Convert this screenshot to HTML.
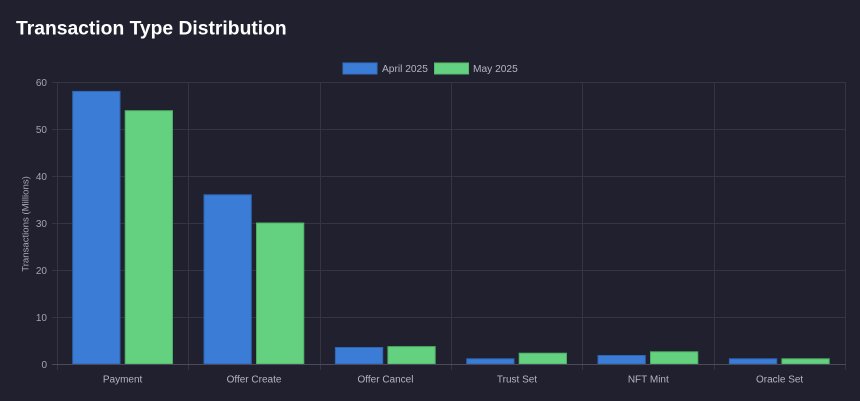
<!DOCTYPE html>
<html>
<head>
<meta charset="utf-8">
<style>
  html,body{margin:0;padding:0;background:#20202f;}
  body{width:860px;height:401px;overflow:hidden;position:relative;font-family:"Liberation Sans",Arial,sans-serif;}
  svg{position:absolute;left:0;top:0;}
</style>
</head>
<body>
<svg width="860" height="401" viewBox="0 0 860 401" xmlns="http://www.w3.org/2000/svg">
  <rect x="0" y="0" width="860" height="401" fill="#20202f"/>
  <text x="16" y="34.5" font-family="Liberation Sans, Arial, sans-serif" font-weight="bold" font-size="19.3" fill="#ffffff">Transaction Type Distribution</text>

  <!-- legend -->
  <rect x="343" y="63" width="34" height="11" fill="#3a7cd6" stroke="#3670c4" stroke-width="1"/>
  <text x="382" y="72" font-size="10.2" fill="#b4b4c2" font-family="Liberation Sans, Arial, sans-serif">April 2025</text>
  <rect x="434.5" y="63" width="34" height="11" fill="#63d17f" stroke="#55bb6e" stroke-width="1"/>
  <text x="473" y="72" font-size="10.2" fill="#b4b4c2" font-family="Liberation Sans, Arial, sans-serif">May 2025</text>

  <!-- horizontal gridlines -->
  <g stroke="#343443" stroke-width="1">
    <line x1="52" y1="82.5" x2="846" y2="82.5"/>
    <line x1="52" y1="129.5" x2="846" y2="129.5"/>
    <line x1="52" y1="176.5" x2="846" y2="176.5"/>
    <line x1="52" y1="223.5" x2="846" y2="223.5"/>
    <line x1="52" y1="270.5" x2="846" y2="270.5"/>
    <line x1="52" y1="317.5" x2="846" y2="317.5"/>
  </g>
  <!-- vertical gridlines -->
  <g stroke="#343443" stroke-width="1">
    <line x1="57.5" y1="82" x2="57.5" y2="370"/>
    <line x1="188.5" y1="82" x2="188.5" y2="370"/>
    <line x1="320.5" y1="82" x2="320.5" y2="370"/>
    <line x1="451.5" y1="82" x2="451.5" y2="370"/>
    <line x1="582.5" y1="82" x2="582.5" y2="370"/>
    <line x1="714.5" y1="82" x2="714.5" y2="370"/>
    <line x1="845.5" y1="82" x2="845.5" y2="370"/>
  </g>

  <!-- bars -->
  <g stroke-width="1">
    <!-- Payment -->
    <rect x="72.7" y="91.4" width="47.3" height="272.6" fill="#3a7cd6" stroke="#2f66b3"/>
    <rect x="125.2" y="110.7" width="47.3" height="253.3" fill="#63d17f" stroke="#4fae66"/>
    <!-- Offer Create -->
    <rect x="204" y="194.8" width="47.3" height="169.2" fill="#3a7cd6" stroke="#2f66b3"/>
    <rect x="256.5" y="223" width="47.3" height="141" fill="#63d17f" stroke="#4fae66"/>
    <!-- Offer Cancel -->
    <rect x="335.4" y="347.5" width="47.3" height="16.5" fill="#3a7cd6" stroke="#2f66b3"/>
    <rect x="387.9" y="346.6" width="47.3" height="17.4" fill="#63d17f" stroke="#4fae66"/>
    <!-- Trust Set -->
    <rect x="466.7" y="358.8" width="47.3" height="5.2" fill="#3a7cd6" stroke="#2f66b3"/>
    <rect x="519.2" y="353.2" width="47.3" height="10.8" fill="#63d17f" stroke="#4fae66"/>
    <!-- NFT Mint -->
    <rect x="598" y="355.5" width="47.3" height="8.5" fill="#3a7cd6" stroke="#2f66b3"/>
    <rect x="650.5" y="351.8" width="47.3" height="12.2" fill="#63d17f" stroke="#4fae66"/>
    <!-- Oracle Set -->
    <rect x="729.4" y="358.8" width="47.3" height="5.2" fill="#3a7cd6" stroke="#2f66b3"/>
    <rect x="781.9" y="358.8" width="47.3" height="5.2" fill="#63d17f" stroke="#4fae66"/>
  </g>

  <!-- x axis line -->
  <line x1="52" y1="364.5" x2="846" y2="364.5" stroke="#4a4a58" stroke-width="1"/>

  <!-- y tick labels -->
  <g font-family="Liberation Sans, Arial, sans-serif" font-size="10" fill="#a4a4b4" text-anchor="end">
    <text x="47" y="86">60</text>
    <text x="47" y="133">50</text>
    <text x="47" y="180">40</text>
    <text x="47" y="227">30</text>
    <text x="47" y="274">20</text>
    <text x="47" y="321">10</text>
    <text x="47" y="368">0</text>
  </g>

  <!-- y axis title -->
  <text transform="translate(28.5,224) rotate(-90)" text-anchor="middle" font-family="Liberation Sans, Arial, sans-serif" font-size="9.6" fill="#a4a4b4">Transactions (Millions)</text>

  <!-- x tick labels -->
  <g font-family="Liberation Sans, Arial, sans-serif" font-size="10" fill="#b4b4c2" text-anchor="middle">
    <text x="122.6" y="382.5">Payment</text>
    <text x="254" y="382.5">Offer Create</text>
    <text x="385.5" y="382.5">Offer Cancel</text>
    <text x="517" y="382.5">Trust Set</text>
    <text x="648.3" y="382.5">NFT Mint</text>
    <text x="779.6" y="382.5">Oracle Set</text>
  </g>
</svg>
</body>
</html>
